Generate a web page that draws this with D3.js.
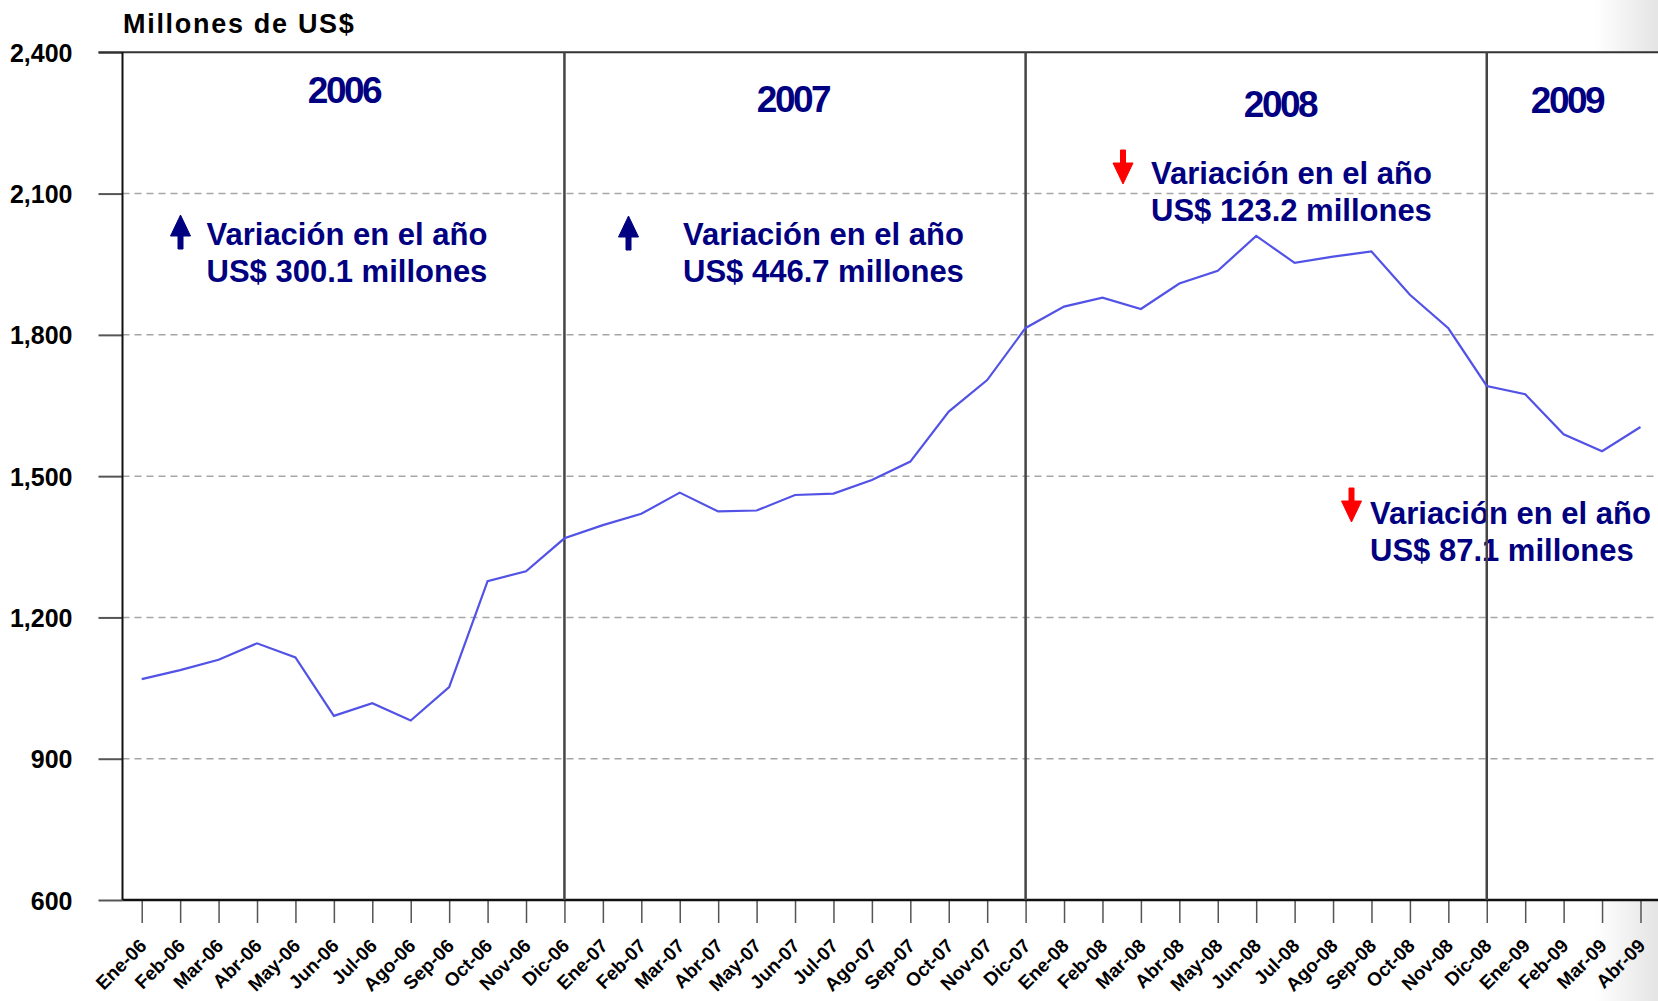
<!DOCTYPE html>
<html>
<head>
<meta charset="utf-8">
<script src="https://cdn.jsdelivr.net/npm/d3@7"></script>
<style>
  html, body { margin: 0; padding: 0; background: #ffffff; }
  svg { display: block; font-family: "Liberation Sans", Arial, sans-serif; }
</style>
</head>
<body>
<svg id="chart" width="1658" height="1001"></svg>
<script>
// Monthly series, millions of US$
const months = [
  "Ene-06","Feb-06","Mar-06","Abr-06","May-06","Jun-06","Jul-06","Ago-06","Sep-06","Oct-06","Nov-06","Dic-06",
  "Ene-07","Feb-07","Mar-07","Abr-07","May-07","Jun-07","Jul-07","Ago-07","Sep-07","Oct-07","Nov-07","Dic-07",
  "Ene-08","Feb-08","Mar-08","Abr-08","May-08","Jun-08","Jul-08","Ago-08","Sep-08","Oct-08","Nov-08","Dic-08",
  "Ene-09","Feb-09","Mar-09","Abr-09"
];
const values = [
  1069, 1088, 1110, 1145, 1115, 991, 1018, 981, 1052, 1277, 1298, 1368.0,
  1396, 1420, 1465, 1425, 1427, 1460, 1463, 1492, 1531, 1637, 1704, 1814.7,
  1860, 1879, 1855, 1909, 1936, 2010, 1953, 1966, 1977, 1885, 1814, 1691.5,
  1674, 1589, 1553, 1604.4
];
const yTicks = [600, 900, 1200, 1500, 1800, 2100, 2400];
const yearSeparators = ["Dic-06", "Dic-07", "Dic-08"];
const yearLabels = ["2006", "2007", "2008", "2009"];
const variationLines = [
  ["Variación en el año", "US$ 300.1 millones"],
  ["Variación en el año", "US$ 446.7 millones"],
  ["Variación en el año", "US$ 123.2 millones"],
  ["Variación en el año", "US$ 87.1 millones"]
];
const variationUp = [true, true, false, false];
const unitLabel = "Millones de US$";

// Layout
const W = 1658, H = 1001;
const plot = { left: 122.5, right: 1659.7, top: 52.3, bottom: 900 };
const navy = "#000080";

const svg = d3.select("#chart");

// faint shading along the right edge, behind the plot
const defs = svg.append("defs");
const grad = defs.append("linearGradient").attr("id", "edge").attr("x1", 0).attr("x2", 1).attr("y1", 0).attr("y2", 0);
grad.append("stop").attr("offset", "0").attr("stop-color", "#ffffff");
grad.append("stop").attr("offset", "1").attr("stop-color", "#e4e4e4");
svg.append("rect").attr("x", 0).attr("y", 0).attr("width", W).attr("height", H).attr("fill", "#fff");
svg.append("rect").attr("x", 1595).attr("y", 0).attr("width", W - 1595).attr("height", H).attr("fill", "url(#edge)");
svg.append("rect").attr("x", plot.left).attr("y", plot.top)
  .attr("width", W - plot.left).attr("height", plot.bottom - plot.top).attr("fill", "#fff");

const x = d3.scalePoint().domain(months).range([plot.left, plot.right]).padding(0.5);
const y = d3.scaleLinear().domain([600, 2400]).range([plot.bottom, plot.top]);

// dashed gridlines
svg.append("g").selectAll("line").data(yTicks.filter(v => v > 600 && v < 2400)).join("line")
  .attr("x1", plot.left).attr("x2", W).attr("y1", d => y(d)).attr("y2", d => y(d))
  .attr("stroke", "#a6a6a6").attr("stroke-width", 1.5).attr("stroke-dasharray", "7,5");

// y axis: outer ticks and labels
const yAxis = d3.axisLeft(y).tickValues(yTicks).tickSize(24).tickPadding(26)
  .tickFormat(d3.format(","));
const gy = svg.append("g").attr("transform", `translate(${plot.left},0)`).call(yAxis);
gy.select(".domain").remove();
gy.selectAll(".tick line").attr("stroke", "#555").attr("stroke-width", 2);
gy.selectAll(".tick text")
  .attr("font-size", 25).attr("font-weight", "bold").attr("fill", "#000")
  .attr("font-family", "'Liberation Sans', Arial, sans-serif")
  .attr("dy", "0.36em");

// x axis: ticks at each month, rotated labels
const xAxis = d3.axisBottom(x).tickSize(23).tickFormat("");
const gx = svg.append("g").attr("transform", `translate(0,${plot.bottom})`).call(xAxis);
gx.select(".domain").remove();
gx.selectAll(".tick line").attr("stroke", "#555").attr("stroke-width", 1.5);
svg.append("g").selectAll("text").data(months).join("text")
  .attr("transform", d => `translate(${x(d) + 6},${947}) rotate(-45)`)
  .attr("text-anchor", "end")
  .attr("font-size", 19).attr("font-weight", "bold").attr("fill", "#000")
  .text(d => d);

// frame: top border, left and bottom axis lines
svg.append("line").attr("x1", plot.left - 24).attr("x2", W).attr("y1", plot.top).attr("y2", plot.top)
  .attr("stroke", "#333").attr("stroke-width", 2);
svg.append("line").attr("x1", plot.left).attr("x2", plot.left).attr("y1", plot.top).attr("y2", plot.bottom)
  .attr("stroke", "#111").attr("stroke-width", 2);
svg.append("line").attr("x1", plot.left).attr("x2", W).attr("y1", plot.bottom).attr("y2", plot.bottom)
  .attr("stroke", "#111").attr("stroke-width", 2.5);

// unit title
svg.append("text").attr("x", 123).attr("y", 33)
  .attr("font-size", 27).attr("font-weight", "bold").attr("fill", "#000")
  .attr("letter-spacing", "1.7px").text(unitLabel);

// year headings
const yearPos = [[344, 103], [793, 112], [1280, 117], [1567, 113]];
svg.append("g").selectAll("text").data(yearLabels).join("text")
  .attr("x", (d, i) => yearPos[i][0]).attr("y", (d, i) => yearPos[i][1])
  .attr("text-anchor", "middle")
  .attr("font-size", 37).attr("font-weight", "bold").attr("fill", navy)
  .attr("letter-spacing", "-2.5px")
  .text(d => d);

// yearly variation notes with arrows
const notePos = [
  { tx: 206.5, ty: 245, ax: 180.5, aTop: 215, aBot: 249 },
  { tx: 683,   ty: 245, ax: 628.5, aTop: 216, aBot: 250 },
  { tx: 1151,  ty: 184, ax: 1123,  aTop: 150, aBot: 184 },
  { tx: 1370,  ty: 524, ax: 1351.5, aTop: 488, aBot: 522 }
];
const notes = svg.append("g");
variationLines.forEach((lines, i) => {
  const p = notePos[i];
  const t = notes.append("text").attr("font-size", 31).attr("font-weight", "bold").attr("fill", navy);
  lines.forEach((s, k) => {
    t.append("tspan").attr("x", p.tx).attr("y", p.ty + k * 37).text(s);
  });
  const up = variationUp[i];
  const col = up ? navy : "#ff0000";
  const headLen = 21, halfW = 10, shaft = 5;
  let path;
  if (up) {
    const hb = p.aTop + headLen;
    path = `M${p.ax},${p.aTop} L${p.ax + halfW},${hb} L${p.ax + shaft / 2},${hb} L${p.ax + shaft / 2},${p.aBot} ` +
           `L${p.ax - shaft / 2},${p.aBot} L${p.ax - shaft / 2},${hb} L${p.ax - halfW},${hb} Z`;
  } else {
    const hb = p.aBot - headLen;
    path = `M${p.ax},${p.aBot} L${p.ax + halfW},${hb} L${p.ax + shaft / 2},${hb} L${p.ax + shaft / 2},${p.aTop} ` +
           `L${p.ax - shaft / 2},${p.aTop} L${p.ax - shaft / 2},${hb} L${p.ax - halfW},${hb} Z`;
  }
  notes.append("path").attr("d", path).attr("fill", col).attr("stroke", col)
    .attr("stroke-width", 1).attr("stroke-linejoin", "round");
});

// year separators at each December
svg.append("g").selectAll("line").data(yearSeparators).join("line")
  .attr("x1", d => x(d)).attr("x2", d => x(d)).attr("y1", plot.top).attr("y2", plot.bottom)
  .attr("stroke", "#444").attr("stroke-width", 2.5);

// series line
const line = d3.line().x((d, i) => x(months[i])).y(d => y(d));
svg.append("path").datum(values).attr("d", line)
  .attr("fill", "none").attr("stroke", "#5252e6").attr("stroke-width", 2.2)
  .attr("stroke-linejoin", "miter");
</script>
</body>
</html>
